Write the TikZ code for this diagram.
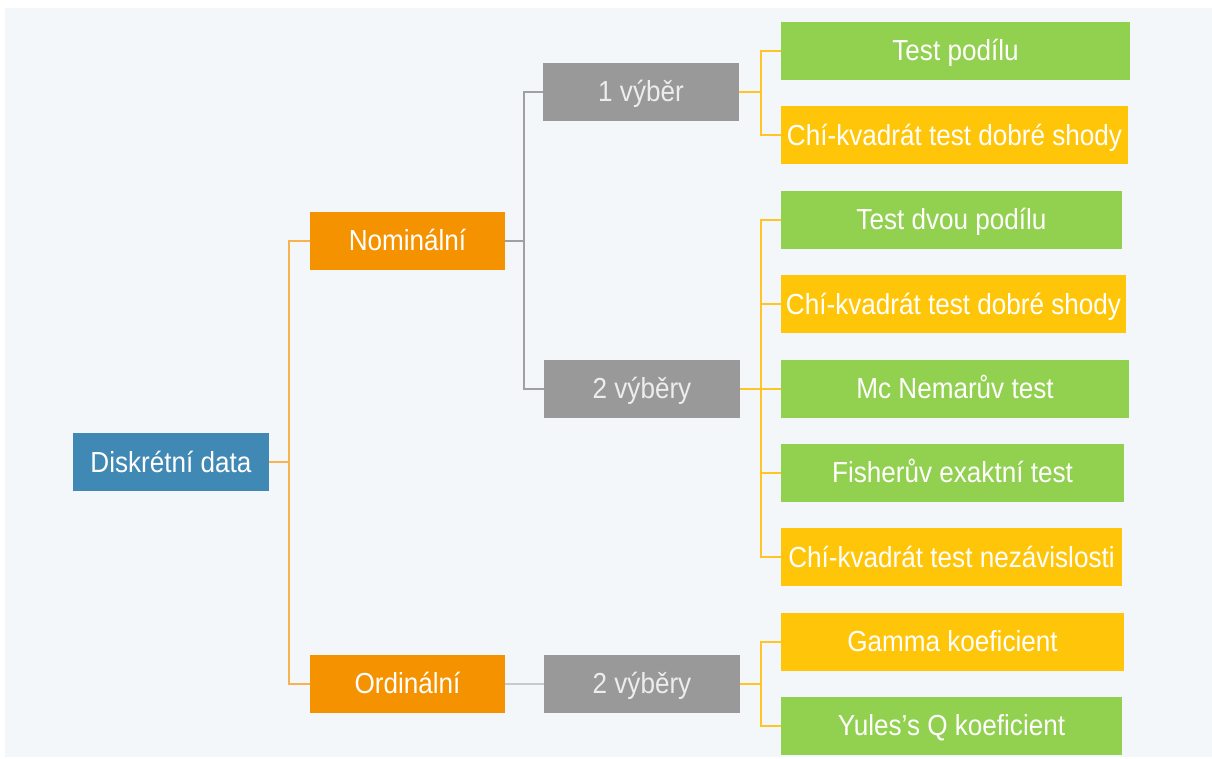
\documentclass[tikz,border=0pt]{standalone}
\usepackage{fontspec}
\setmainfont{Liberation Sans}[FakeStretch=0.9]
\usetikzlibrary{calc}

\definecolor{panel}{HTML}{F3F7FA}
\definecolor{rootblue}{HTML}{4189B5}
\definecolor{lvlorange}{HTML}{F59200}
\definecolor{lvlgray}{HTML}{999999}
\definecolor{leafgreen}{HTML}{92D050}
\definecolor{leafyellow}{HTML}{FFC508}
\definecolor{lineorange}{HTML}{F8B24F}
\definecolor{linegray}{HTML}{A0A0A0}
\definecolor{linelightgray}{HTML}{C8CACC}
\definecolor{lineyellow}{HTML}{FFC526}

\tikzset{
  box/.style={rectangle, inner sep=0pt, text=white, font=\fontsize{29}{31}\selectfont,
              text height=20.5pt, text depth=0pt, minimum height=58pt},
  rootbox/.style={box, fill=rootblue, minimum width=196pt},
  catbox/.style={box, fill=lvlorange, minimum width=195pt},
  grpbox/.style={box, fill=lvlgray, text=white!93!black, minimum width=196pt},
  greenleaf/.style={box, fill=leafgreen},
  yellowleaf/.style={box, fill=leafyellow},
  oline/.style={draw=lineorange, line width=2pt},
  gline/.style={draw=linegray, line width=2pt},
  lgline/.style={draw=linelightgray, line width=2pt},
  yline/.style={draw=lineyellow, line width=2pt},
}

\begin{document}
\begin{tikzpicture}[x=1pt, y=-1pt]
  % canvas and panel
  \useasboundingbox (0,0) rectangle (1212,758);
  \fill[white] (0,0) rectangle (1212,758);
  \fill[panel] (5,8) rectangle (1212,757);

  % root and categories
  \node[rootbox] (dd) at (171,462) {Diskrétní data};
  \node[catbox] (nom) at (407.5,240.5) {Nominální};
  \node[catbox] (ord) at (407.5,683.5) {Ordinální};

  % sample groups
  \node[grpbox] (v1) at (641,91.5) {1 výběr};
  \node[grpbox] (v2) at (642,388.5) {2 výběry};
  \node[grpbox] (v3) at (642,683.5) {2 výběry};

  % tests
  \node[greenleaf, minimum width=349pt] (t1) at (955.5,50.5) {Test podílu};
  \node[yellowleaf, minimum width=347pt] (t2) at (954.5,135) {Chí-kvadrát test dobré shody};
  \node[greenleaf, minimum width=341pt] (t3) at (951.5,219.5) {Test dvou podílu};
  \node[yellowleaf, minimum width=345pt] (t4) at (953.5,304) {Chí-kvadrát test dobré shody};
  \node[greenleaf, minimum width=348pt] (t5) at (955,388.5) {Mc Nemarův test};
  \node[greenleaf, minimum width=343pt] (t6) at (952.5,472.5) {Fisherův exaktní test};
  \node[yellowleaf, minimum width=341pt] (t7) at (951.5,557) {Chí-kvadrát test nezávislosti};
  \node[yellowleaf, minimum width=343pt] (t8) at (952.5,641.5) {Gamma koeficient};
  \node[greenleaf, minimum width=341pt] (t9) at (951.5,725.5) {Yules’s Q koeficient};

  % root to categories
  \draw[oline] (dd.east) -- ++(20,0) coordinate (ddj);
  \draw[oline] (ddj) |- (nom.west);
  \draw[oline] (ddj) |- (ord.west);

  % categories to groups
  \draw[gline] (nom.east) -- ++(19,0) coordinate (nomj);
  \draw[gline] (nomj) |- (v1.west);
  \draw[gline] (nomj) |- (v2.west);
  \draw[lgline] (ord.east) -- (v3.west);

  % groups to tests
  \draw[yline] (v1.east) -- ++(22,0) coordinate (v1j);
  \foreach \t in {t1,t2} \draw[yline] (v1j) |- (\t.west);
  \draw[yline] (v2.east) -- ++(21,0) coordinate (v2j);
  \foreach \t in {t3,t4,t5,t6,t7} \draw[yline] (v2j) |- (\t.west);
  \draw[yline] (v3.east) -- ++(21,0) coordinate (v3j);
  \foreach \t in {t8,t9} \draw[yline] (v3j) |- (\t.west);
\end{tikzpicture}
\end{document}
